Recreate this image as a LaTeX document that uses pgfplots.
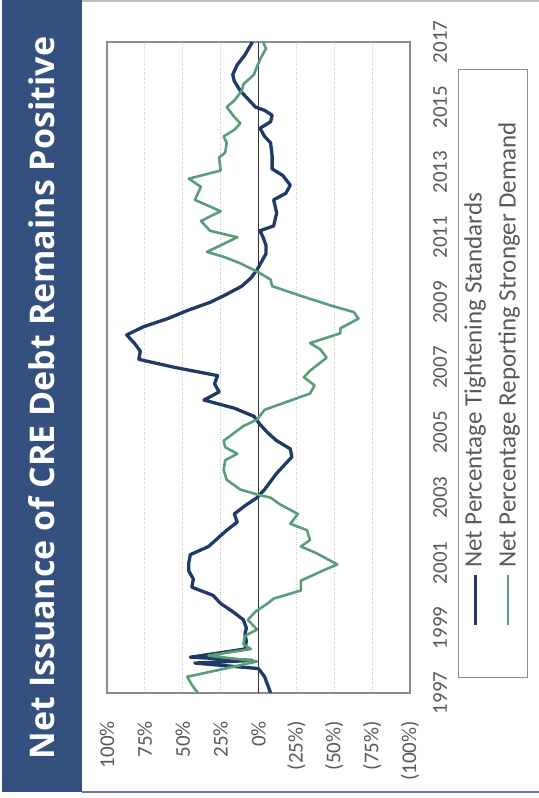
\documentclass[border=0pt]{standalone}
\usepackage{fontspec}
\setmainfont{Carlito}
\newfontfamily\titlefont{Open Sans}
\usepackage{pgfplots}
\pgfplotsset{compat=1.18}
\usepackage{pgfplotstable}

\definecolor{band}{HTML}{34507E}
\definecolor{tighten}{HTML}{1F3A68}
\definecolor{demand}{HTML}{5A9E78}
\definecolor{labelgray}{HTML}{595959}
\definecolor{framegray}{HTML}{8C8C8C}
\definecolor{edgeline}{HTML}{6A7A95}

% Net percentage of banks tightening CRE lending standards
\pgfplotstableread{
yr v
1997.00 -8
1997.25 -6
1997.50 -4
1997.75 0
1997.92 42
1998.00 4
1998.10 45
1998.35 9
1998.60 8
1998.80 9
1999.00 8
1999.25 10
1999.50 17
1999.75 25
2000.00 30
2000.25 44
2000.50 43
2000.75 46
2001.00 46
2001.25 45
2001.50 33
2001.75 27
2002.00 21
2002.25 14
2002.50 16
2002.75 9
2003.00 1
2003.25 -4
2003.50 -8
2003.75 -12
2004.00 -17
2004.25 -22
2004.50 -21
2004.75 -12
2005.00 -6
2005.25 -1
2005.50 3
2005.75 16
2006.00 36
2006.25 26
2006.50 29
2006.75 27
2007.00 55
2007.25 79
2007.50 78
2007.75 82
2008.00 87
2008.25 76
2008.50 60
2008.75 47
2009.00 32
2009.25 21
2009.50 11
2009.75 5
2010.00 1
2010.25 -2
2010.50 -5
2010.75 -5
2011.00 -3
2011.20 -1
2011.35 -10
2011.75 -12
2012.15 -10
2012.35 -18
2012.60 -21
2012.90 -16
2013.10 -9
2013.50 -9
2013.90 -8
2014.10 -4
2014.35 -1
2014.55 -8
2014.75 -9
2014.90 -4
2015.00 2
2015.25 7
2015.50 12
2015.80 16
2016.00 17
2016.30 14
2016.60 9
2017.00 4
}\tighteningdata

% Net percentage of banks reporting stronger CRE loan demand
\pgfplotstableread{
yr v
1997.00 40
1997.25 44
1997.50 47
1997.75 22
1997.97 1
1998.15 33
1998.35 5
1998.50 10
1998.75 9
1998.95 1
1999.25 7
1999.50 2
1999.75 -6
1999.90 -10
2000.15 -28
2000.45 -28
2000.75 -42
2000.95 -52
2001.30 -38
2001.50 -28
2001.70 -34
2002.00 -32
2002.20 -21
2002.50 -26
2002.80 -14
2003.00 -8
2003.10 1
2003.25 12
2003.55 21
2003.85 23
2004.15 22
2004.35 14
2004.55 22
2004.75 23
2005.20 10
2005.40 1
2005.70 -4
2005.95 -19
2006.20 -34
2006.45 -37
2006.70 -30
2006.90 -34
2007.30 -45
2007.55 -41
2007.75 -34
2008.05 -54
2008.20 -54
2008.50 -66
2008.70 -63
2008.90 -48
2009.20 -28
2009.50 -9
2009.70 -8
2009.95 1
2010.20 12
2010.40 23
2010.55 34
2011.00 14
2011.20 32
2011.50 38
2011.80 25
2012.15 42
2012.55 38
2012.80 46
2013.05 25
2013.45 26
2013.60 22
2013.90 21
2014.10 23
2014.30 16
2014.50 12
2014.70 16
2015.00 21
2015.20 16
2015.50 11
2015.70 10
2016.00 3
2016.25 1
2016.55 -2
2016.80 -5
2017.00 -3
}\demanddata

\begin{document}
\begin{tikzpicture}[x=1bp,y=1bp]
\useasboundingbox (0,0) rectangle (539,798);

% title band
\fill[band] (2,6) rectangle (82,798);
\node[rotate=90, text=white, inner sep=0pt,
      font=\titlefont\bfseries\fontsize{34bp}{40bp}\selectfont]
  at (42,400) {Net Issuance of CRE Debt Remains Positive};

% slide edges
\draw[edgeline, line width=2.5bp] (82,6) -- (539,6);
\draw[black!25, line width=3bp] (82,797) -- (539,797);

\begin{axis}[
  at={(107bp,105bp)}, anchor=south west,
  scale only axis, width=303bp, height=651bp,
  x dir=reverse,
  xmin=-100, xmax=100, ymin=1997, ymax=2017,
  xtick={-100,-75,...,100},
  xticklabels={(100\%),(75\%),(50\%),(25\%),0\%,25\%,50\%,75\%,100\%},
  ytick={1997,1999,...,2017},
  yticklabels={1997,1999,2001,2003,2005,2007,2009,2011,2013,2015,2017},
  yticklabel pos=right,
  major tick length=0pt,
  xmajorgrids,
  major grid style={draw=black!22, line width=0.9bp, dash pattern=on 1bp off 1.5bp},
  axis line style={draw=framegray, line width=1.2bp},
  tick label style={font=\fontsize{21bp}{24bp}\selectfont, text=labelgray, inner sep=0pt},
  xticklabel style={rotate=90, anchor=east},
  xticklabel shift=28bp,
  yticklabel style={rotate=90, anchor=north},
  yticklabel shift=23bp,
]
\draw[black!80, line width=1.3bp] (axis cs:0,1997) -- (axis cs:0,2017);
\addplot[tighten, line width=3.3bp, line join=round] table[x=v, y=yr] {\tighteningdata};
\addplot[demand, line width=2.6bp, line join=round] table[x=v, y=yr] {\demanddata};
\end{axis}

% legend
\draw[framegray, line width=1bp] (458,120) rectangle (527,728);
\draw[tighten, line width=3bp] (475,173) -- (475,223);
\node[rotate=90, anchor=west, inner sep=0pt, text=labelgray,
      font=\fontsize{25bp}{28bp}\selectfont]
  at (475,230) {Net Percentage Tightening Standards};
\draw[demand, line width=2.5bp] (508,173) -- (508,223);
\node[rotate=90, anchor=west, inner sep=0pt, text=labelgray,
      font=\fontsize{25bp}{28bp}\selectfont]
  at (509,230) {Net Percentage Reporting Stronger Demand};
\end{tikzpicture}
\end{document}
